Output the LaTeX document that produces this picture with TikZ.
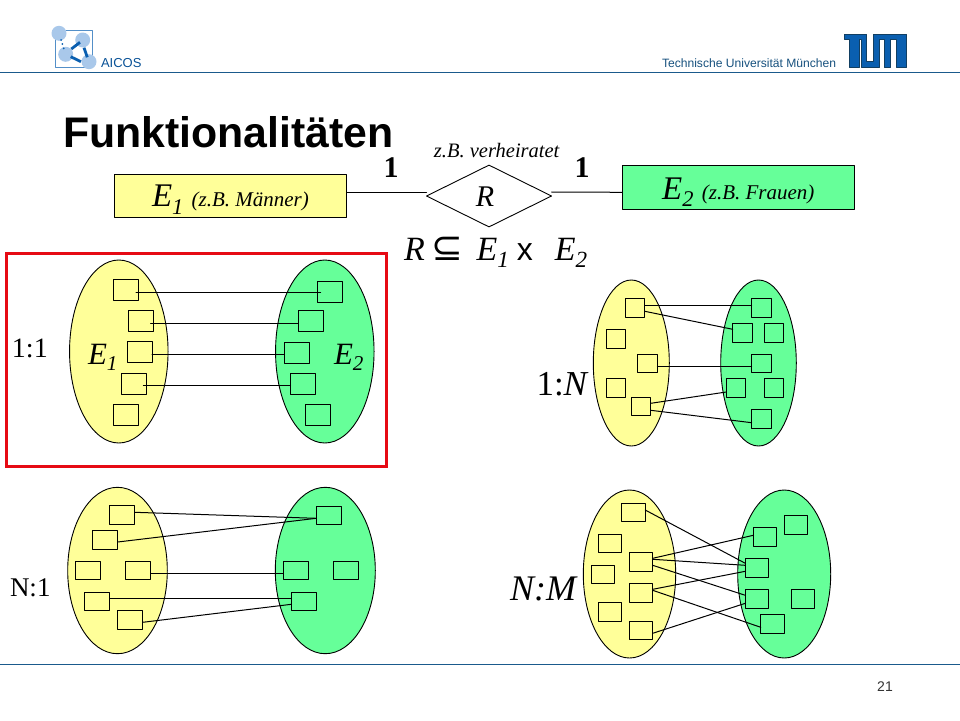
\documentclass[tikz,border=0pt]{standalone}
\usepackage{fontspec}
\usepackage{graphicx}
\setmainfont{Liberation Serif}
\setsansfont{Liberation Sans}
\newfontfamily\symfont{DejaVu Sans}
\usetikzlibrary{shapes.geometric}
\definecolor{setyellow}{HTML}{FFFF99}
\definecolor{setgreen}{HTML}{66FF99}
\definecolor{slideblue}{HTML}{1A5A8C}
\definecolor{logoblue}{HTML}{0A5FB0}
\definecolor{logolight}{HTML}{A9C8EA}
\definecolor{framered}{HTML}{E60A14}
\newcommand{\fs}[1]{\fontsize{#1}{#1}\selectfont}
\newcommand{\lowidx}[1]{\raisebox{-.22em}{\scalebox{.68}{#1}}}
\tikzset{
  elem/.style={draw,rectangle,inner sep=0pt,outer sep=0pt,line width=1pt},
  entity/.style={draw,rectangle,inner sep=0pt,outer sep=0pt,line width=1pt,minimum height=43.5},
  eset/.style={draw,ellipse,inner sep=0pt,outer sep=0pt,line width=.9pt},
  lbl/.style={anchor=base west,inner sep=0pt,outer sep=0pt},
  link/.style={line width=1pt}
}
\begin{document}
\begin{tikzpicture}[x=1pt,y=-1pt,line cap=round,line join=round]
\useasboundingbox (0,0) rectangle (960,720);
% header
\draw[slideblue,line width=1pt] (0,72) -- (960,72);
\draw[slideblue,line width=1pt] (0,664) -- (960,664);
\draw[logoblue!70!white,line width=.8pt] (55.3,30) rectangle (92.3,67.7);
\foreach \x/\y in {59/33.3,82.7/40,65.7/54.3,89/61.7}
{
\fill[logolight] (\x,\y) circle (7.5);
}
\draw[logoblue,line width=2.8pt,line cap=butt] (71.3,49) -- (80,42.3);
\draw[logoblue,line width=2.8pt,line cap=butt] (84,47.7) -- (87.3,57.3);
\draw[logoblue,line width=2.8pt,line cap=butt] (70.7,56.7) -- (81,61.7);
\foreach \x/\y in {61/40,62.3/44,63.7/48.3}
{
\fill[logoblue] (\x,\y) circle (1);
}
\node[lbl] (aicos) at (101,67.5) {\sffamily\fs{13}\color{logoblue!85!black}AICOS};
\node[lbl] (tum) at (662,67.5) {\sffamily\fs{12.1}\color{slideblue!90!black}Technische Universit\"at M\"unchen};
\draw[fill=logoblue,draw=slideblue!70!black,line width=.5pt] (844,34) -- (866.7,34) -- (866.7,61.7) -- (873.3,61.7) -- (873.3,34) -- (906.7,34) -- (906.7,67.7) -- (896.7,67.7) -- (896.7,39.3) -- (890.7,39.3) -- (890.7,67.7) -- (884.3,67.7) -- (884.3,39.3) -- (879.3,39.3) -- (879.3,67.7) -- (861.7,67.7) -- (861.7,39.3) -- (859.3,39.3) -- (859.3,67.7) -- (849.3,67.7) -- (849.3,39.3) -- (844,39.3) -- cycle;
\node (page) at (885,687) {\sffamily\fs{14}\color{black!80}21};
\node[lbl] (title) at (63,147) {\sffamily\bfseries\fs{42.8}Funktionalit\"aten};
% relationship
\node[entity,fill=setyellow,minimum width=232.4] (e1) at (230.5,195.8) {\raisebox{-11pt}[0pt][0pt]{\itshape\fs{33}E\lowidx{1} \fs{21}(z.B. M\"anner)}};
\node[entity,fill=setgreen,minimum width=232] (e2) at (738.3,187.5) {\raisebox{-11.8pt}[0pt][0pt]{\itshape\fs{33}E\lowidx{2} \fs{21}(z.B. Frauen)}};
\node[diamond,draw,inner sep=0pt,outer sep=0pt,line width=.9pt,minimum width=125,minimum height=61.7] (r) at (489,196) {};
\node (rname) at (485,197) {\itshape\fs{30}R};
\node (rnote) at (496.7,150.5) {\itshape\fs{20.5}z.B. verheiratet};
\node (card1) at (391,168) {\bfseries\fs{30}1};
\node (card2) at (582,168) {\bfseries\fs{30}1};
\draw[link] ([yshift=3.8pt]e1.east) -- ([yshift=4pt]r.west);
\draw[link] ([yshift=4pt]r.east) -- ([yshift=-4.8pt]e2.west);
\node[lbl] (formula) at (404,260) {\itshape\fs{34}R\hspace{7pt}{\upshape\symfont\fs{38}\char"2286}\hspace{13pt}E\lowidx{1}\hspace{8pt}{\upshape\sffamily\fs{32}x}\hspace{22pt}E\lowidx{2}};
\draw[framered,line width=3pt,line cap=butt,line join=miter] (6.5,253) rectangle (386.5,466);
% 1:1
\node[eset,fill=setyellow,minimum width=98.5,minimum height=183] (ya) at (118.8,351.5) {};
\node[eset,fill=setgreen,minimum width=98.5,minimum height=183] (ga) at (324.8,351.5) {};
\foreach \n/\x/\y in {a1/126/290,a2/141/321,a3/139.5/352,a4/133.5/383.5,a5/126/414.5,b1/329.5/291.5,b2/310.5/321,b3/296.5/352.5,b4/303/383.5,b5/318/414.5}
{
\node[elem,minimum width=25,minimum height=21] (\n) at (\x,\y) {};
}
\draw[link] ([xshift=-2.5pt,yshift=-2.3pt]a1.east) -- ([xshift=3.7pt,yshift=-.8pt]b1.west);
\draw[link] ([xshift=-2.8pt,yshift=-2.3pt]a2.east) -- ([yshift=-2.3pt]b2.west);
\draw[link] ([yshift=-2.3pt]a3.east) -- ([yshift=-1.8pt]b3.west);
\draw[link] ([xshift=-2.7pt,yshift=-1.8pt]a4.east) -- ([yshift=-1.8pt]b4.west);
\node[lbl] (ename1) at (88,364) {\itshape\fs{31}E\lowidx{1}};
\node[lbl] (ename2) at (334,364) {\itshape\fs{31}E\lowidx{2}};
\node[lbl] (lab11) at (12,357) {\fs{28}1:1};
% 1:N
\node[eset,fill=setyellow,minimum width=76,minimum height=166] (yb) at (631.3,363) {};
\node[eset,fill=setgreen,minimum width=75.6,minimum height=166] (gb) at (758.5,363) {};
\foreach \n/\x/\y in {c1/635/307.8,c2/616/339,c3/647.5/363.5,c4/616/388,c5/641/406.5,d1/761.5/307.8,d2/742.5/332.8,d3/774/332.8,d4/761.5/363.5,d5/736/388,d6/774/388,d7/761.5/419}
{
\node[elem,minimum width=19.6,minimum height=18.8] (\n) at (\x,\y) {};
}
\foreach \p/\a/\q/\b in {c1/2.5/d1/2.5,c1/-3.5/d2/3.5,c3/-2.8/d4/-2.8,c5/3.2/d5/-4,c5/-3.8/d7/-3.7}
{
\draw[link] ([yshift=\a pt]\p.east) -- ([yshift=\b pt]\q.west);
}
\node[lbl] (lab1n) at (536.5,395) {\fs{35}1:\textit{N}};
% N:1
\node[eset,fill=setyellow,minimum width=99.6,minimum height=166.4] (yc) at (117.5,570.5) {};
\node[eset,fill=setgreen,minimum width=100,minimum height=166.4] (gc) at (325.3,570.5) {};
\foreach \n/\x/\y in {f1/122/514.8,f2/105/539.8,f3/88/570.3,f4/138/570.3,f5/97/601.3,f6/130/619.8,g1/329/515.3,g2/296/570.3,g3/346/570.3,g4/304/601.3}
{
\node[elem,minimum width=25.4,minimum height=18.6] (\n) at (\x,\y) {};
}
\foreach \p/\a/\q/\b in {f1/2.5/g1/-3,f2/-2.2/g1/-3,f4/-3/g2/-3,f5/3/g4/3,f6/-2.5/g4/-3}
{
\draw[link] ([yshift=\a pt]\p.east) -- ([yshift=\b pt]\q.west);
}
\node[lbl] (labn1) at (10,596) {\fs{27}N:1};
% N:M
\node[eset,fill=setyellow,minimum width=92.4,minimum height=168] (yd) at (629.5,574) {};
\node[eset,fill=setgreen,minimum width=93,minimum height=168] (gd) at (784.2,574) {};
\foreach \n/\x/\y in {h1/633.5/512.5,h2/610/543.5,h3/641/561.8,h4/603/574.5,h5/641/592.8,h6/610/611.8,h7/641/630.5,k1/796/524.8,k2/765/537,k3/757/568,k4/757/599,k5/803/599,k6/772.5/623.8}
{
\node[elem,minimum width=23.4,minimum height=18.8] (\n) at (\x,\y) {};
}
\foreach \p/\a/\q/\b in {h1/2.5/k3/4.7,h3/3.5/k2/1.7,h3/2.5/k3/2.7,h3/-3.5/k4/3.7,h5/3.5/k3/-3.3,h5/2.5/k6/-3.5,h7/-2.8/k4/-4.3}
{
\draw[link] ([yshift=\a pt]\p.east) -- ([yshift=\b pt]\q.west);
}
\node[lbl] (labnm) at (510,600) {\itshape\fs{36}N:M};
\end{tikzpicture}
\end{document}
